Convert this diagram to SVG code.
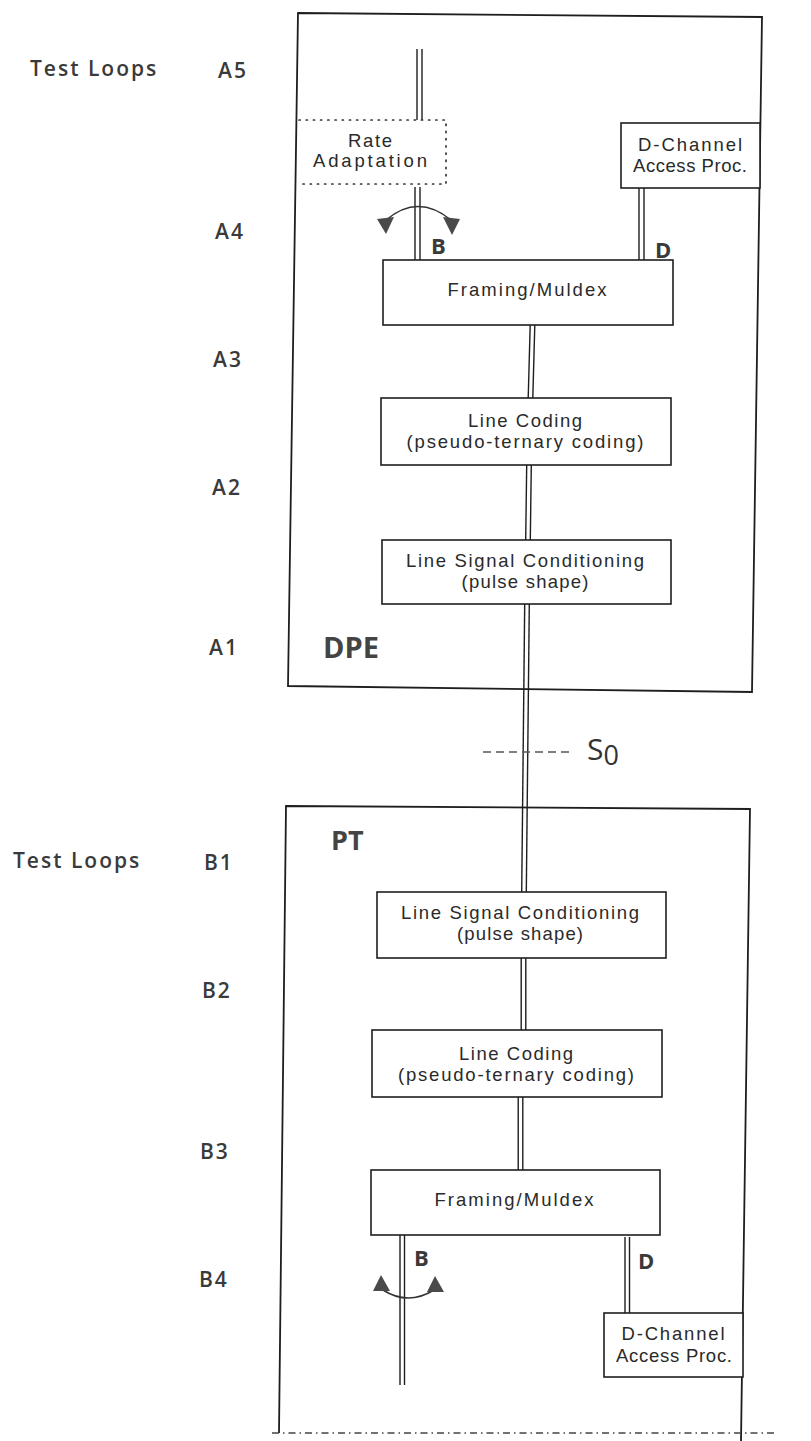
<svg xmlns="http://www.w3.org/2000/svg" width="811" height="1441" viewBox="0 0 811 1441">
  <defs>
    <style>
      .frame{fill:none;stroke:#1e1e1e;stroke-width:1.8}
      .box{fill:#fff;stroke:#1e1e1e;stroke-width:1.6}
      .dotted{fill:none;stroke:#333;stroke-width:1.7;stroke-dasharray:1.2 6;stroke-linecap:round}
      .wire{stroke:#1e1e1e;stroke-width:1.4;fill:none}
      .lbl{font-family:"Liberation Sans",Arial,sans-serif;font-size:18.5px;fill:#2a2a2a;text-anchor:middle}
      .side{font-family:"Open Sans","Liberation Sans",sans-serif;font-size:21px;font-weight:600;fill:#3a3a3a;letter-spacing:2px}
      .ch{font-family:"Open Sans","Liberation Sans",sans-serif;font-size:22px;font-weight:700;fill:#3a3a3a}
      .big{font-family:"Open Sans","Liberation Sans",sans-serif;font-weight:700;fill:#444}
      .iface{font-family:"Open Sans","Liberation Sans",sans-serif;fill:#333}
      .head{fill:#4a4a4a}
      .loop{fill:none;stroke:#333;stroke-width:1.6}
      .dash{fill:none;stroke:#555;stroke-width:1.5;stroke-dasharray:8 5}
      .dashdot{fill:none;stroke:#444;stroke-width:1.5;stroke-dasharray:7 4 1.5 4}
    </style>
  </defs>

  <rect x="0" y="0" width="811" height="1441" fill="#fff"/>

  <!-- left-hand test loop labels -->
  <g id="test-loop-labels">
    <text class="side" x="30" y="76">Test Loops</text>
    <text class="side" x="218" y="78">A5</text>
    <text class="side" x="215" y="239">A4</text>
    <text class="side" x="213" y="367">A3</text>
    <text class="side" x="212" y="495">A2</text>
    <text class="side" x="209" y="655">A1</text>
    <text class="side" x="13" y="868">Test Loops</text>
    <text class="side" x="204" y="870">B1</text>
    <text class="side" x="202" y="998">B2</text>
    <text class="side" x="200" y="1159">B3</text>
    <text class="side" x="199" y="1287">B4</text>
  </g>

  <!-- DPE enclosure -->
  <g id="dpe">
    <path class="frame" d="M298,13 L762,17 L752,692 L288,686 Z"/>
    <text class="big" x="323" y="658" font-size="29">DPE</text>
  </g>

  <!-- PT enclosure (open at the bottom, closed by the dash-dot boundary) -->
  <g id="pt">
    <path class="frame" d="M279,1433 L286,806 L750,809 L741,1441"/>
    <text class="big" x="331" y="850" font-size="27">PT</text>
    <line class="dashdot" x1="272" y1="1433" x2="778" y2="1433"/>
  </g>

  <!-- connectors: double lines for the B, D and line paths -->
  <g id="connectors">
    <!-- DPE B channel -->
    <line class="wire" x1="417" y1="49" x2="417" y2="120"/>
    <line class="wire" x1="422" y1="49" x2="422" y2="120"/>
    <line class="wire" x1="415" y1="187" x2="415" y2="260"/>
    <line class="wire" x1="420" y1="187" x2="420" y2="260"/>
    <!-- DPE D channel -->
    <line class="wire" x1="639" y1="188" x2="639" y2="262"/>
    <line class="wire" x1="644" y1="188" x2="644" y2="262"/>
    <!-- DPE trunk -->
    <line class="wire" x1="530.2" y1="325" x2="528.2" y2="398"/>
    <line class="wire" x1="534.8" y1="325" x2="532.8" y2="398"/>
    <line class="wire" x1="526.7" y1="465" x2="525.7" y2="540"/>
    <line class="wire" x1="531.3" y1="465" x2="530.3" y2="540"/>
    <!-- line across the S0 reference point -->
    <line class="wire" x1="524.7" y1="604" x2="521.7" y2="892"/>
    <line class="wire" x1="529.3" y1="604" x2="526.3" y2="892"/>
    <!-- PT trunk -->
    <line class="wire" x1="521.2" y1="958" x2="521.2" y2="1030"/>
    <line class="wire" x1="525.8" y1="958" x2="525.8" y2="1030"/>
    <line class="wire" x1="518.2" y1="1097" x2="518.2" y2="1170"/>
    <line class="wire" x1="522.8" y1="1097" x2="522.8" y2="1170"/>
    <!-- PT B channel -->
    <line class="wire" x1="400" y1="1235" x2="400" y2="1385"/>
    <line class="wire" x1="404.5" y1="1235" x2="404.5" y2="1385"/>
    <!-- PT D channel -->
    <line class="wire" x1="625" y1="1237" x2="625" y2="1313"/>
    <line class="wire" x1="629.5" y1="1237" x2="629.5" y2="1313"/>
  </g>

  <!-- DPE nodes -->
  <g id="dpe-rate-adaptation">
    <path class="dotted" d="M299,120 L446,120 L446,184 L299,184"/>
    <text class="lbl" x="370" y="147" textLength="44" lengthAdjust="spacing">Rate</text>
    <text class="lbl" x="370" y="167" textLength="114" lengthAdjust="spacing">Adaptation</text>
  </g>
  <g id="dpe-dchannel">
    <rect class="box" x="621" y="123" width="139" height="65"/>
    <text class="lbl" x="690" y="151" textLength="104" lengthAdjust="spacing">D-Channel</text>
    <text class="lbl" x="690" y="172" textLength="114" lengthAdjust="spacing">Access Proc.</text>
  </g>
  <g id="dpe-framing">
    <rect class="box" x="383" y="260" width="290" height="65"/>
    <text class="lbl" x="527" y="296" textLength="159" lengthAdjust="spacing">Framing/Muldex</text>
  </g>
  <g id="dpe-line-coding">
    <rect class="box" x="381" y="398" width="290" height="67"/>
    <text class="lbl" x="525" y="427" textLength="114" lengthAdjust="spacing">Line Coding</text>
    <text class="lbl" x="525" y="448" textLength="237" lengthAdjust="spacing">(pseudo-ternary coding)</text>
  </g>
  <g id="dpe-line-signal">
    <rect class="box" x="382" y="540" width="289" height="64"/>
    <text class="lbl" x="525" y="567" textLength="238" lengthAdjust="spacing">Line Signal Conditioning</text>
    <text class="lbl" x="525" y="588" textLength="127" lengthAdjust="spacing">(pulse shape)</text>
  </g>

  <!-- DPE B-channel loop -->
  <g id="dpe-loop">
    <path class="loop" d="M386,220 Q418,193 451,220"/>
    <polygon class="head" points="377,219 394,217 386,234"/>
    <polygon class="head" points="443,217 460,219 452,235"/>
    <text class="ch" x="431" y="254">B</text>
    <text class="ch" x="655" y="258">D</text>
  </g>

  <!-- S0 reference point -->
  <g id="s0">
    <line class="dash" x1="483" y1="752" x2="570" y2="752"/>
    <text class="iface" x="587" y="760" font-size="30">S<tspan font-size="27" dy="5">0</tspan></text>
  </g>

  <!-- PT nodes -->
  <g id="pt-line-signal">
    <rect class="box" x="377" y="892" width="289" height="66"/>
    <text class="lbl" x="520" y="919" textLength="238" lengthAdjust="spacing">Line Signal Conditioning</text>
    <text class="lbl" x="520" y="940" textLength="126" lengthAdjust="spacing">(pulse shape)</text>
  </g>
  <g id="pt-line-coding">
    <rect class="box" x="372" y="1030" width="290" height="67"/>
    <text class="lbl" x="516" y="1060" textLength="114" lengthAdjust="spacing">Line Coding</text>
    <text class="lbl" x="516" y="1081" textLength="236" lengthAdjust="spacing">(pseudo-ternary coding)</text>
  </g>
  <g id="pt-framing">
    <rect class="box" x="371" y="1170" width="289" height="65"/>
    <text class="lbl" x="514" y="1206" textLength="159" lengthAdjust="spacing">Framing/Muldex</text>
  </g>
  <g id="pt-dchannel">
    <rect class="box" x="604" y="1313" width="139" height="64"/>
    <text class="lbl" x="673" y="1340" textLength="103" lengthAdjust="spacing">D-Channel</text>
    <text class="lbl" x="674" y="1362" textLength="116" lengthAdjust="spacing">Access Proc.</text>
  </g>

  <!-- PT B-channel loop -->
  <g id="pt-loop">
    <path class="loop" d="M383,1290 Q408,1306 434,1290"/>
    <polygon class="head" points="381,1275 373,1291 390,1291"/>
    <polygon class="head" points="435,1276 427,1292 444,1292"/>
    <text class="ch" x="414" y="1266">B</text>
    <text class="ch" x="638" y="1269">D</text>
  </g>
</svg>
